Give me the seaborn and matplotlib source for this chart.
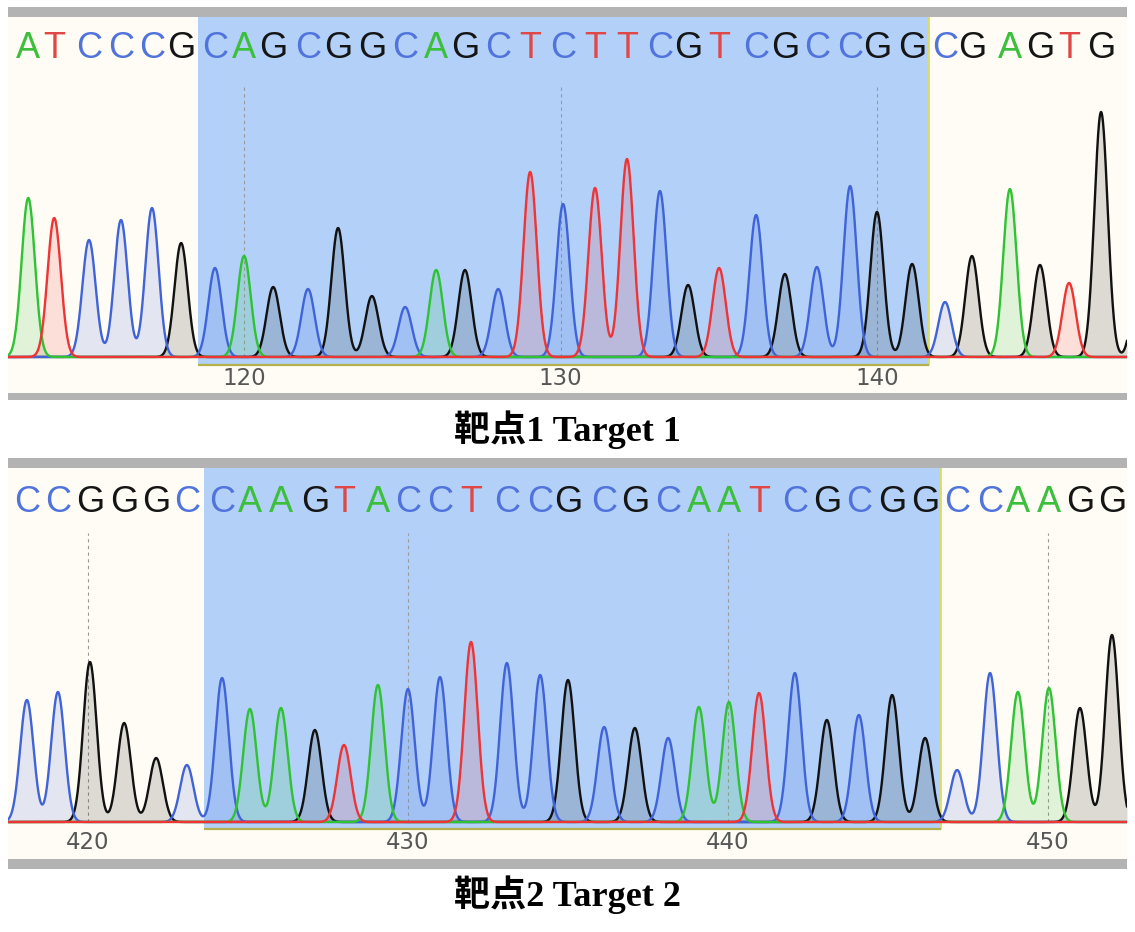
import numpy as np
import pandas as pd
import matplotlib.pyplot as plt
import seaborn as sns
from matplotlib.patches import Rectangle

# ---- dados lidos do cromatograma ----
# painel 1 (alvo 1), bases 113..148
seq1 = "ATCCCGCAGCGGCAGCTCTTCGTCGCCGGCGAGTGG"
pos1 = [113.18, 114.00, 115.10, 116.11, 117.09, 118.01, 119.08, 120.00, 120.92, 122.02,
        122.97, 124.04, 125.09, 126.07, 126.98, 128.03, 129.04, 130.08, 131.09, 132.10,
        133.14, 134.03, 135.01, 136.18, 137.09, 138.10, 139.15, 140.00, 141.11, 142.15,
        143.00, 144.20, 145.15, 146.07, 147.08, 148.30]
alt1 = [159, 139, 117, 137, 149, 114, 89, 101, 70, 68,
        129, 61, 50, 87, 87, 68, 185, 153, 169, 198,
        166, 72, 89, 142, 83, 90, 171, 145, 93, 55,
        101, 168, 92, 74, 245, 100]
ticks1 = [120, 130, 140]
base_ini1 = 113
alvo1 = (119, 141)
xlim1 = (112.54, 147.90)

# painel 2 (alvo 2), bases 418..452
seq2 = "CCGGGCCAAGTACCTCCGCGCAATCGCGGCCAAGG"
pos2 = [418.09, 419.06, 420.06, 421.13, 422.13, 423.09, 424.19, 425.06, 426.03, 427.09,
        428.00, 429.06, 430.00, 431.00, 431.97, 433.09, 434.13, 435.00, 436.13, 437.09,
        438.13, 439.09, 440.03, 440.97, 442.09, 443.09, 444.09, 445.13, 446.16, 447.16,
        448.19, 449.06, 450.03, 451.00, 452.00]
alt2 = [122, 130, 160, 99, 64, 57, 144, 113, 114, 92,
        77, 137, 133, 145, 180, 159, 147, 142, 95, 94,
        84, 115, 120, 129, 149, 102, 107, 127, 84, 52,
        149, 130, 134, 114, 187]
ticks2 = [420, 430, 440, 450]
base_ini2 = 418
alvo2 = (424, 446)
xlim2 = (417.50, 452.47)

legendas = ["靶点1 Target 1", "靶点2 Target 2"]

cores = {"A": "#2fc232", "C": "#4064d8", "G": "#111111", "T": "#ee3434"}
cores_letra = {"A": "#3cbf3c", "C": "#5073dc", "G": "#151515", "T": "#e04848"}
creme = "#fefcf4"
azul = "#b2d0f8"
cinza = "#b3b3b3"

W, H = 1135, 932


def caixa(x0, y0, x1, y1):
    return [x0 / W, 1 - y1 / H, (x1 - x0) / W, (y1 - y0) / H]


def painel(fig, rect, seq, pos, alt, ticks, base_ini, alvo, xlim, ylim,
           y_letra, y_tracejado, frac_baixo, pad_tick):
    ax = fig.add_axes(rect)
    ax.set_facecolor(creme)
    x = np.linspace(xlim[0], xlim[1], 4000)
    sigma = 0.21
    linhas = []
    for b in "ACGT":
        sinal = np.zeros_like(x)
        for s, p, h in zip(seq, pos, alt):
            if s == b:
                sinal += h * np.exp(-0.5 * ((x - p) / sigma) ** 2)
        linhas.append(pd.DataFrame({"pos": x, "sinal": sinal, "base": b}))
    df = pd.concat(linhas)

    i0 = alvo[0] - base_ini
    i1 = alvo[1] - base_ini
    x0 = (pos[i0 - 1] + pos[i0]) / 2
    x1 = (pos[i1] + pos[i1 + 1]) / 2
    ax.axvspan(x0, x1, ymin=frac_baixo, ymax=1, color=azul, lw=0, zorder=0)
    ax.axvline(x1, ymin=frac_baixo, ymax=1, color="#dede5a", lw=1.3, zorder=1)
    ax.hlines(ylim[0] + frac_baixo * (ylim[1] - ylim[0]), x0, x1,
              color="#b4b24a", lw=1.6, zorder=1)

    ax.vlines(ticks, 0, y_tracejado, colors="#9a9a9a", linestyles=(0, (3, 3)), lw=0.8, zorder=1)

    for b in "ACGT":
        d = df[df["base"] == b]
        ax.fill_between(d["pos"], 0, d["sinal"], color=cores[b], alpha=0.14, lw=0, zorder=2)
    sns.lineplot(data=df, x="pos", y="sinal", hue="base", hue_order=list("GCAT"),
                 palette=cores, estimator=None, sort=False, legend=False,
                 linewidth=1.7, ax=ax, zorder=3)

    for s, p in zip(seq, pos):
        ax.text(p, y_letra, s, color=cores_letra[s], ha="center", va="center",
                fontsize=26, family=["Liberation Sans Narrow", "Liberation Sans"],
                clip_on=True, zorder=4)

    ax.set_xlim(xlim)
    ax.set_ylim(ylim)
    ax.set_xticks(ticks)
    ax.set_xticklabels([str(t) for t in ticks])
    ax.set_yticks([])
    ax.tick_params(axis="x", length=0, pad=pad_tick, labelsize=16.5, labelcolor="#575757")
    for lab in ax.get_xticklabels():
        lab.set_family("DejaVu Sans")
    ax.set_xlabel("")
    ax.set_ylabel("")
    for sp in ax.spines.values():
        sp.set_visible(False)
    return ax


sns.set_style("white")
fig = plt.figure(figsize=(W / 100, H / 100), dpi=100)
fig.patch.set_facecolor("white")

painel(fig, caixa(8, 17, 1127, 393), seq1, pos1, alt1, ticks1, base_ini1, alvo1, xlim1,
       (357 - 393, 357 - 17), 357 - 48, 357 - 85, (393 - 365) / 376, -19)
painel(fig, caixa(8, 468, 1127, 859), seq2, pos2, alt2, ticks2, base_ini2, alvo2, xlim2,
       (822 - 859, 822 - 468), 822 - 502, 822 - 533, (859 - 829) / 391, -20)

for (y0, y1) in [(7, 17), (393, 400), (458, 468), (859, 869)]:
    r = caixa(8, y0, 1127, y1)
    fig.add_artist(Rectangle((r[0], r[1]), r[2], r[3], transform=fig.transFigure,
                             color=cinza, lw=0))

for texto, yc in zip(legendas, [430, 895]):
    fig.text(567 / W, 1 - yc / H, texto, ha="center", va="center", fontsize=26,
             fontweight="bold", color="black",
             family=["Liberation Serif", "Noto Sans CJK SC"])

fig.savefig("out.png", dpi=100)
plt.close(fig)
